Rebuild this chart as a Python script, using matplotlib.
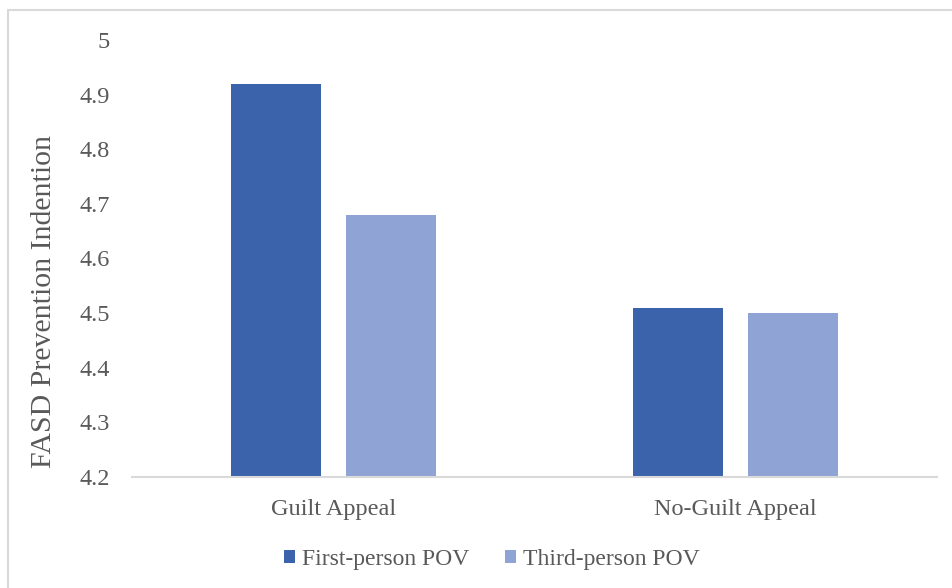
import numpy as np
import matplotlib
matplotlib.use("Agg")
import matplotlib.pyplot as plt
from matplotlib.patches import Rectangle

plt.rcParams['font.family'] = ['Liberation Serif', 'DejaVu Serif']

# Mean prevention intention by appeal type and point of view
appeals = ['Guilt Appeal', 'No-Guilt Appeal']
series_names = ['First-person POV', 'Third-person POV']
first_person = [4.92, 4.51]
third_person = [4.68, 4.50]
y_ticks = [4.2, 4.3, 4.4, 4.5, 4.6, 4.7, 4.8, 4.9, 5.0]
y_tick_labels = ['4.2', '4.3', '4.4', '4.5', '4.6', '4.7', '4.8', '4.9', '5']

text_color = '#595959'
colors = ['#3b63ab', '#8fa4d4']

fig = plt.figure(figsize=(9.53, 5.88), dpi=100)
ax = fig.add_axes([0.1385, 0.1888, 0.8447, 0.7432])

# chart frame, only top and left edges fall inside the image
fig.patches.append(Rectangle((8 / 953, -0.05), 1.2, 578 / 588 + 0.05,
                             transform=fig.transFigure, fill=False,
                             edgecolor='#d9d9d9', lw=1.5))

x = np.arange(len(appeals))
width = 0.224
offset = 0.143
ax.bar(x - offset, np.array(first_person) - 4.2, width, bottom=4.2,
       color=colors[0], label=series_names[0])
ax.bar(x + offset, np.array(third_person) - 4.2, width, bottom=4.2,
       color=colors[1], label=series_names[1])

ax.set_xlim(-0.5, 1.5)
ax.set_ylim(4.2, 5.0)
ax.set_yticks(y_ticks)
ax.set_yticklabels(y_tick_labels)
ax.set_xticks(x)
ax.set_xticklabels(appeals)
ax.tick_params(axis='both', length=0, labelsize=17.5, colors=text_color)
ax.tick_params(axis='y', pad=16)
ax.tick_params(axis='x', pad=16)

for side in ['top', 'right', 'left']:
    ax.spines[side].set_visible(False)
ax.spines['bottom'].set_color('#d9d9d9')
ax.spines['bottom'].set_linewidth(1.5)

fig.text(44 / 953, 1 - 302 / 588, 'FASD Prevention Indention', rotation=90,
         ha='center', va='center', fontsize=21.5, color=text_color)

leg = fig.legend(loc='center', bbox_to_anchor=(492 / 953, 1 - 559 / 588),
                 ncol=2, frameon=False, fontsize=17, handlelength=0.47,
                 handleheight=0.47, handletextpad=0.3, columnspacing=1.5)
for t in leg.get_texts():
    t.set_color(text_color)

fig.savefig('out.png', dpi=100)
